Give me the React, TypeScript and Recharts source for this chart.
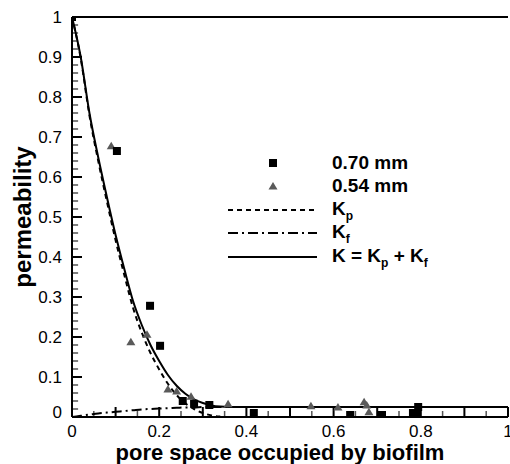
import {
	ComposedChart,
	Line,
	Scatter,
	XAxis,
	YAxis,
	Label,
	Legend,
	ReferenceLine,
} from "recharts";

// curve sample positions and values
const curveX = [0, 0.02, 0.04, 0.06, 0.08, 0.1, 0.12, 0.14, 0.16, 0.18, 0.2, 0.22, 0.24, 0.26, 0.28, 0.3, 0.32, 0.34, 0.36, 0.4, 0.5, 0.6, 0.7, 0.8, 0.9, 1];
const kTotal = [1, 0.9, 0.76, 0.65, 0.55, 0.455, 0.37, 0.29, 0.23, 0.18, 0.14, 0.105, 0.078, 0.058, 0.044, 0.035, 0.029, 0.026, 0.025, 0.025, 0.025, 0.025, 0.025, 0.025, 0.025, 0.025];
const kFilm = [0, 0.003, 0.006, 0.009, 0.011, 0.013, 0.015, 0.017, 0.019, 0.02, 0.021, 0.022, 0.023, 0.024, 0.024, 0.025, 0.025, 0.025, 0.025, 0.025, 0.025, 0.025, 0.025, 0.025, 0.025, 0.025];
const kPore = [1, 0.897, 0.754, 0.641, 0.539, 0.442, 0.355, 0.273, 0.211, 0.16, 0.119, 0.083, 0.055, 0.034, 0.02, 0.01, 0.004, 0.001];

// measured points
const mm70X = [0, 0.103, 0.179, 0.202, 0.254, 0.28, 0.315, 0.417, 0.638, 0.711, 0.782, 0.79, 0.794];
const mm70Y = [1, 0.665, 0.278, 0.178, 0.04, 0.033, 0.03, 0.01, 0.005, 0.005, 0.01, 0.01, 0.025];
const mm54X = [0.09, 0.135, 0.172, 0.22, 0.24, 0.273, 0.358, 0.548, 0.61, 0.67, 0.676, 0.681];
const mm54Y = [0.678, 0.188, 0.207, 0.07, 0.065, 0.052, 0.033, 0.028, 0.025, 0.038, 0.03, 0.013];

const yLabels = ["0", "0.1", "0.2", "0.3", "0.4", "0.5", "0.6", "0.7", "0.8", "0.9", "1"];
const xLabels = ["0", "0.2", "0.4", "0.6", "0.8", "1"];

const W = 510;
const H = 464;
const PLOT_LEFT = 72;
const PLOT_BOTTOM = 417;
const FONT = "'Liberation Sans', Arial, sans-serif";

const yTicks = Array.from({ length: 51 }, (_, i) => i / 50);
const xTicks = Array.from({ length: 21 }, (_, i) => i / 20);

const toPts = (xs: number[], ys: number[]) => ys.map((y, i) => ({ x: xs[i], y }));

const totalData = toPts(curveX, kTotal);
const filmData = toPts(curveX, kFilm);
const poreData = toPts(curveX, kPore);
const data70 = toPts(mm70X, mm70Y);
const data54 = toPts(mm54X, mm54Y);

const YTick = ({ y, payload }: any) => {
	const n = Math.round(payload.value * 50);
	if (n % 5 !== 0) return <g />;
	return (
		<text x={PLOT_LEFT - 10} y={n === 0 ? y - 5 : y} dy="0.35em" textAnchor="end" fontSize={17} fontFamily={FONT} fill="#000">
			{yLabels[n / 5]}
		</text>
	);
};

const XTick = ({ x, payload }: any) => {
	const n = Math.round(payload.value * 20);
	if (n % 4 !== 0) return <g />;
	return (
		<text x={x} y={PLOT_BOTTOM + 20} textAnchor="middle" fontSize={17} fontFamily={FONT} fill="#000">
			{xLabels[n / 4]}
		</text>
	);
};

const Square = ({ cx, cy }: any) => <rect x={cx - 4} y={cy - 4} width={8} height={8} fill="#000" />;
const Triangle = ({ cx, cy }: any) => (
	<polygon points={`${cx},${cy - 4} ${cx + 4.5},${cy + 3.5} ${cx - 4.5},${cy + 3.5}`} fill="#5a5a5a" />
);

const Sub = ({ t }: { t: string }) => (
	<span style={{ fontSize: 12, position: "relative", top: 5 }}>{t}</span>
);

const LegendBox = () => {
	const row = { display: "flex", alignItems: "center", height: 23.5 };
	const txt = { fontFamily: FONT, fontWeight: 700, fontSize: 19, lineHeight: "20px", color: "#000", marginLeft: 12, whiteSpace: "nowrap" as const };
	return (
		<div>
			<div style={row}>
				<svg width={95} height={20}><rect x={44} y={6} width={8} height={8} fill="#000" /></svg>
				<span style={txt}>0.70 mm</span>
			</div>
			<div style={row}>
				<svg width={95} height={20}><polygon points="48,6 52.5,13.5 43.5,13.5" fill="#5a5a5a" /></svg>
				<span style={txt}>0.54 mm</span>
			</div>
			<div style={row}>
				<svg width={95} height={20}><line x1={3} x2={92} y1={10} y2={10} stroke="#000" strokeWidth={2} strokeDasharray="5 4" /></svg>
				<span style={txt}>K<Sub t="p" /></span>
			</div>
			<div style={row}>
				<svg width={95} height={20}><line x1={3} x2={92} y1={10} y2={10} stroke="#000" strokeWidth={2} strokeDasharray="10 4 2 4" /></svg>
				<span style={txt}>K<Sub t="f" /></span>
			</div>
			<div style={row}>
				<svg width={95} height={20}><line x1={3} x2={92} y1={10} y2={10} stroke="#000" strokeWidth={2} /></svg>
				<span style={txt}>K = K<Sub t="p" /> + K<Sub t="f" /></span>
			</div>
		</div>
	);
};

export default function App() {
	return (
		<div style={{ position: "absolute", left: 0, top: 0, width: W, height: H, background: "#fff" }}>
			<ComposedChart
				width={W}
				height={H}
				margin={{ top: 17, right: 2, left: 0, bottom: 0 }}
				style={{ fontFamily: FONT }}
			>
				<XAxis
					type="number"
					dataKey="x"
					domain={[0, 1]}
					ticks={xTicks}
					interval={0}
					height={47}
					axisLine={{ stroke: "#000", strokeWidth: 2 }}
					tickLine={false}
					tick={(p: any) => <XTick {...p} />}
					allowDataOverflow
				>
					<Label
						value="pore space occupied by biofilm"
						position="insideBottom"
						offset={4}
						dx={-10}
						style={{ fontFamily: FONT, fontWeight: 700, fontSize: 22, fill: "#000" }}
					/>
				</XAxis>
				<YAxis
					type="number"
					domain={[0, 1]}
					ticks={yTicks}
					interval={0}
					width={72}
					axisLine={{ stroke: "#000", strokeWidth: 2 }}
					tickLine={false}
					tick={(p: any) => <YTick {...p} />}
					allowDataOverflow
				>
					<Label
						value="permeability"
						angle={-90}
						position="insideLeft"
						offset={22}
						style={{ fontFamily: FONT, fontWeight: 700, fontSize: 24, fill: "#000", textAnchor: "middle" }}
					/>
				</YAxis>
				<ReferenceLine y={1} stroke="#000" strokeWidth={2} />
				{/* inward axis ticks: long every 0.1, short in between */}
				{yTicks.map((v, i) => (
					<ReferenceLine
						key={"yt" + i}
						segment={[{ x: 0, y: v }, { x: i % 5 === 0 ? 0.023 : 0.014, y: v }]}
						stroke={i % 5 === 0 ? "#000" : "#555"}
						strokeWidth={i % 5 === 0 ? 2 : 1.5}
						ifOverflow="visible"
					/>
				))}
				{xTicks.map((v, i) => (
					<ReferenceLine
						key={"xt" + i}
						segment={[{ x: v, y: 0 }, { x: v, y: i % 2 === 0 ? 0.025 : 0.015 }]}
						stroke={i % 2 === 0 ? "#000" : "#555"}
						strokeWidth={i % 2 === 0 ? 2 : 1.5}
						ifOverflow="visible"
					/>
				))}
				<Line data={poreData} dataKey="y" type="monotone" stroke="#000" strokeWidth={2} strokeDasharray="5 4" dot={false} isAnimationActive={false} />
				<Line data={filmData} dataKey="y" type="monotone" stroke="#000" strokeWidth={2} strokeDasharray="10 4 2 4" dot={false} isAnimationActive={false} />
				<Line data={totalData} dataKey="y" type="monotone" stroke="#000" strokeWidth={2} dot={false} isAnimationActive={false} />
				<Scatter data={data54} dataKey="y" shape={<Triangle />} isAnimationActive={false} />
				<Scatter data={data70} dataKey="y" shape={<Square />} isAnimationActive={false} />
				<Legend
					layout="vertical"
					align="center"
					verticalAlign="middle"
					content={<LegendBox />}
					wrapperStyle={{ left: 225, top: 151, width: 260 }}
				/>
			</ComposedChart>
		</div>
	);
}
